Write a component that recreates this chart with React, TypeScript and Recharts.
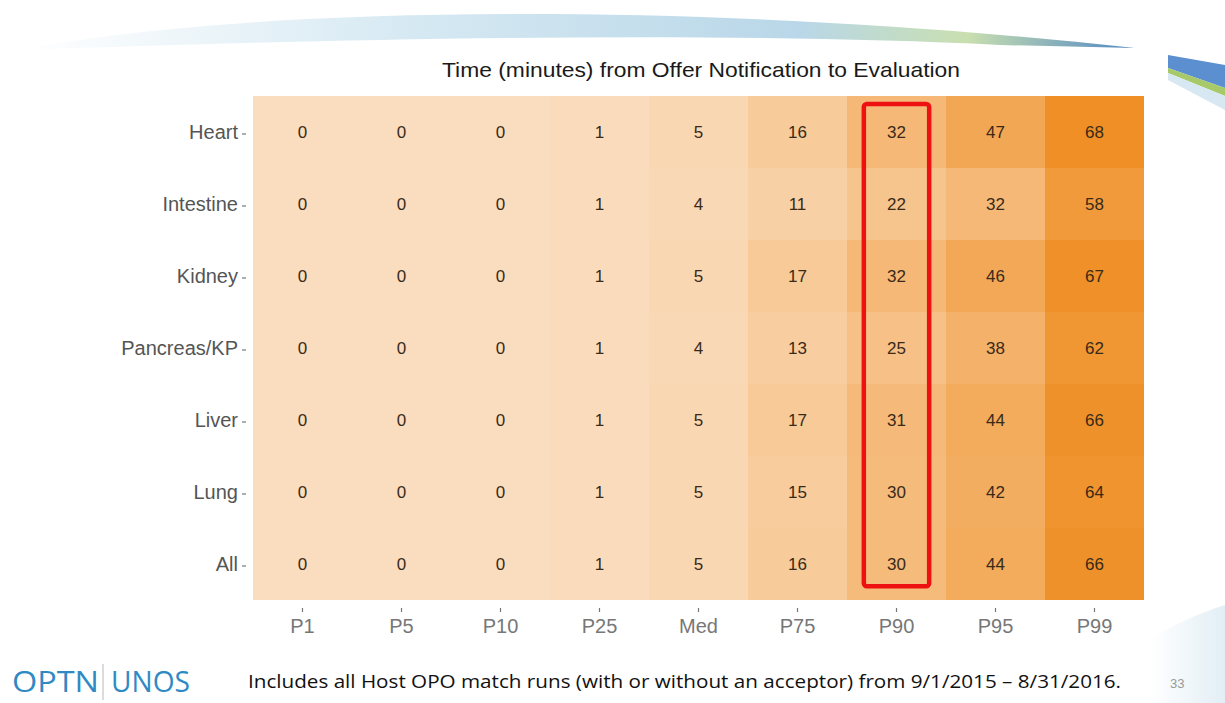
import React from "react";
import { ScatterChart, Scatter, XAxis, YAxis, ReferenceArea } from "recharts";

const percentiles = ["P1", "P5", "P10", "P25", "Med", "P75", "P90", "P95", "P99"];
const organs = ["Heart", "Intestine", "Kidney", "Pancreas/KP", "Liver", "Lung", "All"];

const heart = [0, 0, 0, 1, 5, 16, 32, 47, 68];
const intestine = [0, 0, 0, 1, 4, 11, 22, 32, 58];
const kidney = [0, 0, 0, 1, 5, 17, 32, 46, 67];
const pancreas = [0, 0, 0, 1, 4, 13, 25, 38, 62];
const liver = [0, 0, 0, 1, 5, 17, 31, 44, 66];
const lung = [0, 0, 0, 1, 5, 15, 30, 42, 64];
const all = [0, 0, 0, 1, 5, 16, 30, 44, 66];

const rows = [heart, intestine, kidney, pancreas, liver, lung, all];
const highlighted = "P90";

const LOW = [250, 221, 190];
const HIGH = [239, 143, 38];
const MAX = 68;

function colorFor(v: number) {
  const t = Math.max(0, Math.min(1, v / MAX));
  const c = LOW.map((l, i) => Math.round(l + (HIGH[i] - l) * t));
  return `rgb(${c[0]},${c[1]},${c[2]})`;
}

const cells = rows.flatMap((vals, r) =>
  vals.map((v, c) => ({ x: c, y: r, v }))
);

const FONT = "'Liberation Sans', Arial, sans-serif";

const YTick = (props: any) => {
  const { x, y, payload } = props;
  return (
    <g>
      <text x={x - 13} y={y + 7} textAnchor="end" fill="#555" fontSize={20} fontFamily={FONT}>
        {organs[payload.value]}
      </text>
      <line x1={x - 9} x2={x - 5} y1={y + 2} y2={y + 2} stroke="#777" strokeWidth={1.2} />
    </g>
  );
};

const XTick = (props: any) => {
  const { x, y, payload } = props;
  return (
    <g>
      <line x1={x} x2={x} y1={y + 6} y2={y + 10} stroke="#777" strokeWidth={1.2} />
      <text x={x} y={y + 31} textAnchor="middle" fill="#777" fontSize={20} fontFamily={FONT}>
        {percentiles[payload.value]}
      </text>
    </g>
  );
};

const CellLabel = (props: any) => {
  const { cx, cy, payload } = props;
  return (
    <text x={cx} y={cy + 6} textAnchor="middle" fill="#3a2a18" fontSize={17} fontFamily={FONT}>
      {payload.v}
    </text>
  );
};

const Background = () => (
  <svg width={1225} height={703} style={{ position: "absolute", left: 0, top: 0 }}>
    <defs>
      <linearGradient id="sw" x1="0" y1="0" x2="1" y2="0">
        <stop offset="0" stopColor="#ffffff" />
        <stop offset="0.35" stopColor="#d6e9f3" />
        <stop offset="0.7" stopColor="#b9d7e8" />
        <stop offset="0.85" stopColor="#c9dfb0" />
        <stop offset="1" stopColor="#4e86c4" />
      </linearGradient>
      <linearGradient id="br" x1="0" y1="0" x2="1" y2="0">
        <stop offset="0" stopColor="#ffffff" />
        <stop offset="1" stopColor="#cfe3ef" />
      </linearGradient>
    </defs>
    <path d="M20,50 C250,5 700,0 1135,48 L1000,45 C700,30 300,40 20,50 Z" fill="url(#sw)" />
    <path d="M1168,55 L1225,65 L1225,88 L1168,68 Z" fill="#5b8fcf" />
    <path d="M1168,68 L1225,88 L1225,96 L1168,73 Z" fill="#a8c96a" />
    <path d="M1168,73 L1225,96 L1225,110 L1168,80 Z" fill="#d8e8f2" />
    <path d="M1150,640 C1180,620 1210,610 1225,605 L1225,703 L1150,703 Z" fill="url(#br)" opacity={0.6} />
  </svg>
);

export default function App() {
  return (
    <div style={{ position: "absolute", left: 0, top: 0, width: 1225, height: 703, background: "#fff", overflow: "hidden" }}>
      <Background />
      <div style={{ position: "absolute", left: 0, top: 0 }}>
        <ScatterChart width={1225} height={703} margin={{ top: 96, right: 81, bottom: 73, left: 133 }}>
          <XAxis
            type="number"
            dataKey="x"
            domain={[-0.5, 8.5]}
            ticks={[0, 1, 2, 3, 4, 5, 6, 7, 8]}
            allowDataOverflow
            axisLine={false}
            tickLine={false}
            tickSize={0}
            height={30}
            tick={<XTick />}
          />
          <YAxis
            type="number"
            dataKey="y"
            domain={[-0.5, 6.5]}
            ticks={[0, 1, 2, 3, 4, 5, 6]}
            reversed
            allowDataOverflow
            axisLine={false}
            tickLine={false}
            tickSize={0}
            width={120}
            tick={<YTick />}
          />
          {cells.map((c) => (
            <ReferenceArea
              key={`${c.x}-${c.y}`}
              x1={c.x - 0.5}
              x2={c.x + 0.5}
              y1={c.y - 0.5}
              y2={c.y + 0.5}
              fill={colorFor(c.v)}
              fillOpacity={1}
              stroke="none"
              ifOverflow="visible"
            />
          ))}
          <ReferenceArea
            x1={percentiles.indexOf(highlighted) - 0.33}
            x2={percentiles.indexOf(highlighted) + 0.33}
            y1={-0.39}
            y2={6.31}
            ifOverflow="visible"
            shape={(p: any) => (
              <rect x={p.x} y={p.y} width={p.width} height={p.height} rx={3} fill="none" stroke="#ee1111" strokeWidth={4.5} />
            )}
          />
          <Scatter data={cells} isAnimationActive={false} shape={<CellLabel />} />
        </ScatterChart>
      </div>
      <svg width={1225} height={703} style={{ position: "absolute", left: 0, top: 0, pointerEvents: "none" }}>
        <text x={442} y={77} fontFamily={FONT} fontSize={21} fill="#1a1a1a" textLength={518} lengthAdjust="spacingAndGlyphs">
          Time (minutes) from Offer Notification to Evaluation
        </text>
        <text x={12} y={692} fontFamily="'Liberation Sans Narrow', 'Open Sans', Arial, sans-serif" fontSize={30} fill="#2f8ac4" textLength={87} lengthAdjust="spacingAndGlyphs">
          OPTN
        </text>
        <line x1={103} x2={103} y1={664} y2={700} stroke="#b8b8b8" strokeWidth={1} />
        <text x={111} y={692} fontFamily="'Liberation Sans Narrow', 'Open Sans', Arial, sans-serif" fontSize={30} fill="#2f8ac4" textLength={79} lengthAdjust="spacingAndGlyphs">
          UNOS
        </text>
        <text x={248} y={688} fontFamily="'Open Sans', 'Liberation Sans', sans-serif" fontSize={19} fill="#111" textLength={873} lengthAdjust="spacingAndGlyphs">
          Includes all Host OPO match runs (with or without an acceptor) from 9/1/2015 – 8/31/2016.
        </text>
        <text x={1170} y={688} fontFamily={FONT} fontSize={13} fill="#999">
          33
        </text>
      </svg>
    </div>
  );
}
